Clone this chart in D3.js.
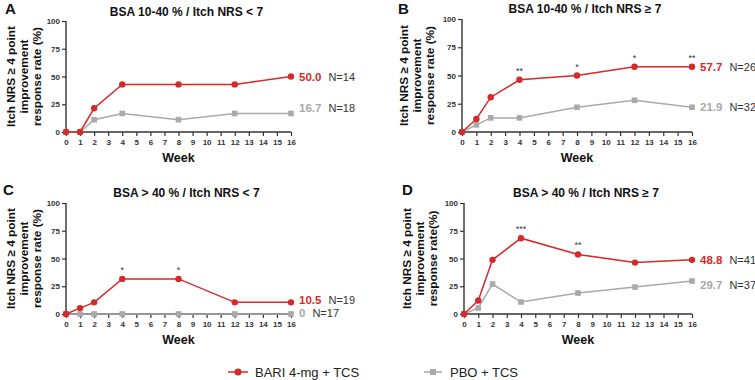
<!DOCTYPE html>
<html>
<head>
<meta charset="utf-8">
<script src="https://cdn.jsdelivr.net/npm/d3@7"></script>
<style>
  body { margin: 0; background: #fff; }
  svg { font-family: "Liberation Sans", Arial, sans-serif; }
  .tick text { font-weight: bold; font-size: 8px; fill: #333; }
</style>
</head>
<body>
<svg width="755" height="380"></svg>
<script>
const weeks = [0, 1, 2, 4, 8, 12, 16];
const xTicks = d3.range(0, 17);
const yTicks = [0, 25, 50, 75, 100];

const titles = ['BSA 10-40 % / Itch NRS < 7', 'BSA 10-40 % / Itch NRS \u2265 7',
  'BSA > 40 % / Itch NRS < 7', 'BSA > 40 % / Itch NRS \u2265 7'];
const letters = ['A', 'B', 'C', 'D'];

const bariA = [0, 0, 21.4, 42.9, 42.9, 42.9, 50.0];
const pboA  = [0, 0, 11.1, 16.7, 11.1, 16.7, 16.7];
const bariB = [0, 11.5, 30.8, 46.2, 50.0, 57.7, 57.7];
const pboB  = [0, 6.3, 12.5, 12.5, 21.9, 28.1, 21.9];
const bariC = [0, 5.3, 10.5, 31.6, 31.6, 10.5, 10.5];
const pboC  = [0, 0, 0, 0, 0, 0, 0];
const bariD = [0, 12.2, 48.8, 68.3, 53.7, 46.3, 48.8];
const pboD  = [0, 5.4, 27.0, 10.8, 18.9, 24.3, 29.7];

const starsA = ['', '', '', '', '', '', ''];
const starsB = ['', '', '', '**', '*', '*', '**'];
const starsC = ['', '', '', '*', '*', '', ''];
const starsD = ['', '', '', '***', '**', '', ''];

const endLabelsBari = ['50.0', '57.7', '10.5', '48.8'];
const endLabelsPbo = ['16.7', '21.9', '0', '29.7'];
const nBari = ['N=14', 'N=26', 'N=19', 'N=41'];
const nPbo = ['N=18', 'N=32', 'N=17', 'N=37'];

const yLabels = [
  ['Itch NRS \u2265 4 point', 'improvement', 'response rate (%)'],
  ['Itch NRS \u2265 4 point', 'improvement', 'response rate (%)'],
  ['Itch NRS \u2265 4 point', 'improvement', 'response rate (%)'],
  ['Itch NRS \u2265 4 point', 'improvement', 'response rate(%)']
];

const legendNames = ['BARI 4-mg + TCS', 'PBO + TCS'];

const red = '#d42a2a';
const grey = '#a9a9a9';

const svg = d3.select('svg');

// layout of each panel: axis box in pixels
const panels = [
  {x0: 66, x1: 291, yTop: 21, yBot: 132, bari: bariA, pbo: pboA, stars: starsA, shiftB: 0, shiftP: -5, titleY: 16, letterX: 5, letterY: 14, labX: -55},
  {x0: 462, x1: 692, yTop: 19, yBot: 132, bari: bariB, pbo: pboB, stars: starsB, shiftB: 0, shiftP: 0, titleY: 13, letterX: 398, letterY: 14, labX: -58},
  {x0: 66, x1: 291, yTop: 203, yBot: 314, bari: bariC, pbo: pboC, stars: starsC, shiftB: -2, shiftP: -1, titleY: 197, letterX: 3, letterY: 195, labX: -55},
  {x0: 464, x1: 692, yTop: 203, yBot: 314, bari: bariD, pbo: pboD, stars: starsD, shiftB: 0, shiftP: 4, titleY: 197, letterX: 402, letterY: 195, labX: -57}
];

panels.forEach((p, i) => {
  const x = d3.scaleLinear().domain([0, 16]).range([p.x0, p.x1]);
  const y = d3.scaleLinear().domain([0, 100]).range([p.yBot, p.yTop]);
  const g = svg.append('g');

  // title and letter
  g.append('text')
    .attr('x', (p.x0 + p.x1) / 2 + 8)
    .attr('y', p.titleY)
    .attr('text-anchor', 'middle')
    .attr('font-weight', 'bold')
    .attr('font-size', 12)
    .attr('fill', '#111')
    .text(titles[i]);
  g.append('text')
    .attr('x', p.letterX)
    .attr('y', p.letterY)
    .attr('font-weight', 'bold')
    .attr('font-size', 15)
    .attr('fill', '#111')
    .text(letters[i]);

  // axes
  const yAxis = d3.axisLeft(y).tickValues(yTicks).tickSize(4).tickPadding(2);
  const yAxisG = g.append('g').attr('transform', `translate(${p.x0},0)`).call(yAxis);
  const xAxis = d3.axisBottom(x).tickValues(xTicks).tickSize(4).tickPadding(3);
  const xAxisG = g.append('g').attr('transform', `translate(0,${p.yBot})`).call(xAxis);
  [yAxisG, xAxisG].forEach(a => {
    a.select('.domain').attr('stroke', '#333').attr('stroke-width', 1.4)
      .attr('d', a === yAxisG ? `M0,${p.yTop}V${p.yBot}` : `M${p.x0},0H${p.x1}`);
    a.selectAll('.tick line').attr('stroke', '#333').attr('stroke-width', 1.2);
  });

  // y label
  const midY = (p.yTop + p.yBot) / 2;
  yLabels[i].forEach((t, k) => {
    const lx = p.x0 + p.labX + k * 13;
    g.append('text')
      .attr('transform', `translate(${lx},${midY}) rotate(-90)`)
      .attr('text-anchor', 'middle')
      .attr('dominant-baseline', 'central')
      .attr('font-weight', 'bold')
      .attr('font-size', 11.8)
      .attr('fill', '#111')
      .text(t);
  });

  g.append('text')
    .attr('x', (p.x0 + p.x1) / 2)
    .attr('y', p.yBot + 30)
    .attr('text-anchor', 'middle')
    .attr('font-weight', 'bold')
    .attr('font-size', 12.5)
    .attr('fill', '#111')
    .text('Week');

  const line = d3.line().x((d, j) => x(weeks[j])).y(d => y(d));

  // placebo
  g.append('path').datum(p.pbo)
    .attr('d', line).attr('fill', 'none')
    .attr('stroke', grey).attr('stroke-width', 1.5);
  g.selectAll('.sq').data(p.pbo).enter().append('rect')
    .attr('x', (d, j) => x(weeks[j]) - 2.8)
    .attr('y', d => y(d) - 2.8)
    .attr('width', 5.6).attr('height', 5.6)
    .attr('fill', grey);

  // bari
  g.append('path').datum(p.bari)
    .attr('d', line).attr('fill', 'none')
    .attr('stroke', red).attr('stroke-width', 1.5);
  g.selectAll('.dot').data(p.bari).enter().append('circle')
    .attr('cx', (d, j) => x(weeks[j]))
    .attr('cy', d => y(d))
    .attr('r', 3.2)
    .attr('fill', red);

  // significance stars
  g.selectAll('.star').data(p.stars).enter().append('text')
    .attr('x', (d, j) => x(weeks[j]))
    .attr('y', (d, j) => y(p.bari[j]) - 6)
    .attr('text-anchor', 'middle')
    .attr('font-size', 9)
    .attr('fill', '#333')
    .text(d => d);

  // end labels
  const ends = [
    {v: p.bari[6], lab: endLabelsBari[i], n: nBari[i], c: red, dy: p.shiftB},
    {v: p.pbo[6], lab: endLabelsPbo[i], n: nPbo[i], c: grey, dy: p.shiftP}
  ];
  ends.forEach(e => {
    const ty = y(e.v) + e.dy;
    const t = g.append('text')
      .attr('x', p.x1 + 8)
      .attr('y', ty)
      .attr('dominant-baseline', 'central')
      .attr('font-weight', 'bold')
      .attr('font-size', 11.5)
      .attr('fill', e.c)
      .text(e.lab);
    const w = t.node().getComputedTextLength();
    g.append('text')
      .attr('x', p.x1 + 8 + w + 7)
      .attr('y', ty)
      .attr('dominant-baseline', 'central')
      .attr('font-size', 11)
      .attr('fill', '#333')
      .text(e.n);
  });
});

// legend
const legendY = 372;
const leg = svg.append('g');
leg.append('line').attr('x1', 228).attr('x2', 248).attr('y1', legendY).attr('y2', legendY)
  .attr('stroke', red).attr('stroke-width', 1.5);
leg.append('circle').attr('cx', 238).attr('cy', legendY).attr('r', 3.5).attr('fill', red);
leg.append('text').attr('x', 255).attr('y', legendY).attr('dominant-baseline', 'central')
  .attr('font-size', 13).attr('fill', '#222').text(legendNames[0]);
leg.append('line').attr('x1', 424).attr('x2', 442).attr('y1', legendY).attr('y2', legendY)
  .attr('stroke', grey).attr('stroke-width', 1.5);
leg.append('rect').attr('x', 430).attr('y', legendY - 3).attr('width', 6).attr('height', 6).attr('fill', grey);
leg.append('text').attr('x', 450).attr('y', legendY).attr('dominant-baseline', 'central')
  .attr('font-size', 13).attr('fill', '#222').text(legendNames[1]);
</script>
</body>
</html>
